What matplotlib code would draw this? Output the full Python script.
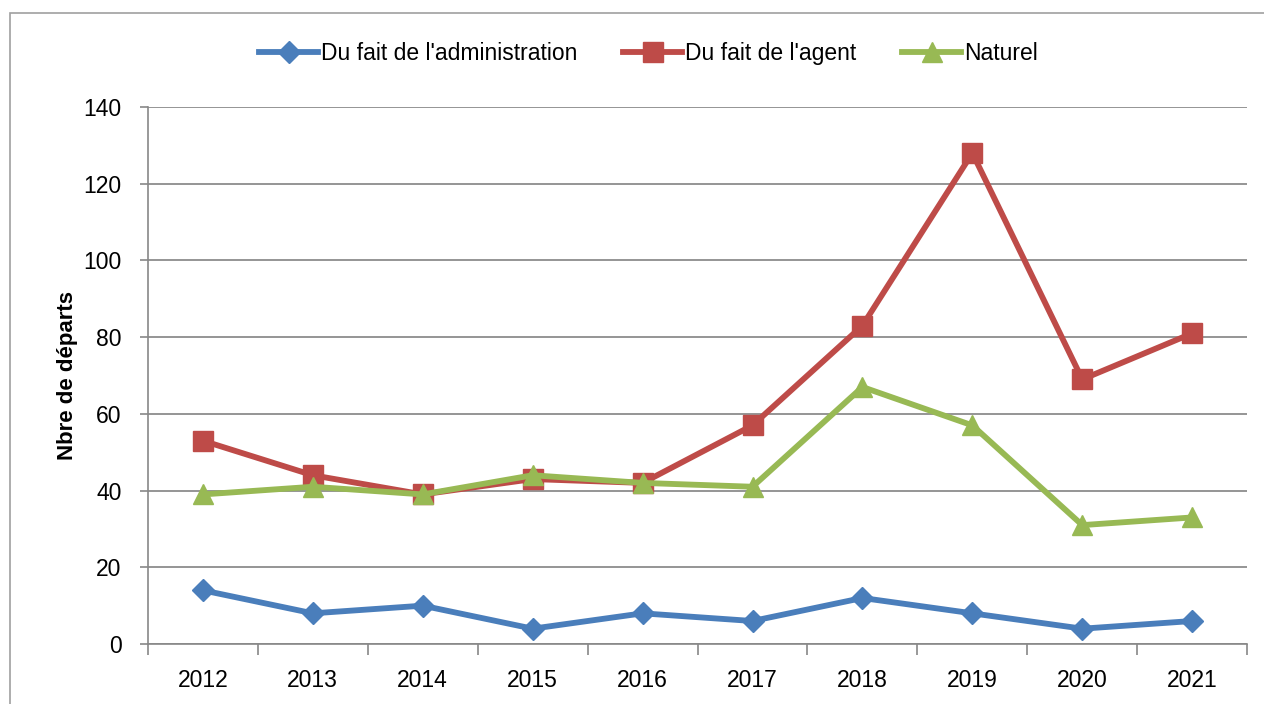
import numpy as np
import matplotlib.pyplot as plt
from matplotlib.patches import Rectangle
from matplotlib.ticker import FixedLocator

plt.rcParams['font.family'] = ['Liberation Sans', 'DejaVu Sans']

# Data
years = ['2012', '2013', '2014', '2015', '2016', '2017', '2018', '2019', '2020', '2021']
admin = [14, 8, 10, 4, 8, 6, 12, 8, 4, 6]
agent = [53, 44, 39, 43, 42, 57, 83, 128, 69, 81]
naturel = [39, 41, 39, 44, 42, 41, 67, 57, 31, 33]

fig = plt.figure(figsize=(12.64, 7.04), dpi=100)
ax = fig.add_axes([0.117, 0.0852, 0.8697, 0.7628])

# outer chart border
fig.patches.append(Rectangle((10 / 1264, -0.1), 1.2, (704 - 13) / 704 + 0.1,
                             transform=fig.transFigure, fill=False,
                             edgecolor='#a0a0a0', linewidth=1.2))

x = np.arange(len(years))
ax.plot(x, admin, color='#4a7ebb', lw=4.2, marker='D', ms=11,
        label="Du fait de l'administration", zorder=3)
ax.plot(x, agent, color='#be4b48', lw=4.2, marker='s', ms=14,
        label="Du fait de l'agent", zorder=3)
ax.plot(x, naturel, color='#98b954', lw=4.2, marker='^', ms=15,
        label="Naturel", zorder=4)

ax.set_xlim(-0.5, len(years) - 0.5)
ax.set_ylim(0, 140)
ax.set_yticks(np.arange(0, 141, 20))
ax.set_xticks(x)
ax.set_xticklabels(years)
ax.xaxis.set_minor_locator(FixedLocator(np.arange(-0.5, len(years), 1.0)))
ax.tick_params(axis='x', which='major', length=0, pad=18, labelsize=16.5)
ax.tick_params(axis='x', which='minor', length=8, color='#888888', width=1.2)
ax.tick_params(axis='y', length=6, color='#888888', width=1.2, labelsize=16.5, pad=13)

ax.grid(axis='y', color='#8c8c8c', lw=1.3)
ax.set_axisbelow(True)
for s in ['top', 'right']:
    ax.spines[s].set_visible(False)
for s in ['left', 'bottom']:
    ax.spines[s].set_color('#888888')
    ax.spines[s].set_linewidth(1.2)

ax.set_ylabel('Nbre de départs', fontsize=16, fontweight='bold', labelpad=4)

ax.legend(loc='center', bbox_to_anchor=(0.455, 1.1), ncol=3, frameon=False,
          fontsize=16.5, handlelength=2.6, handletextpad=0.1, columnspacing=2.0)

fig.savefig('out.png', dpi=100)
